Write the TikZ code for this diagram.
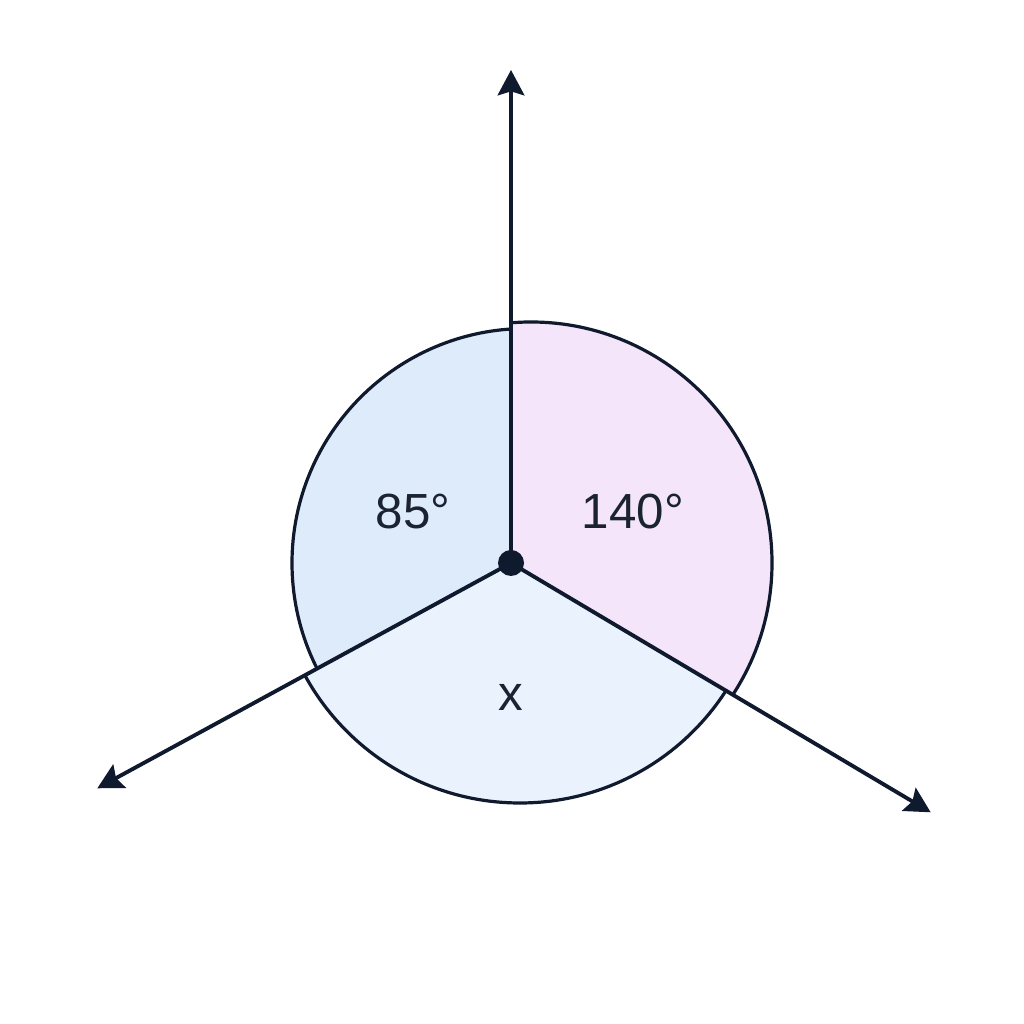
\documentclass[tikz,border=0pt]{standalone}
\usepackage{fontspec}
\setmainfont{Liberation Sans}
\usetikzlibrary{arrows.meta}
\definecolor{ink}{HTML}{0F1A2E}
\definecolor{txt}{HTML}{1B2333}
\definecolor{wblue}{HTML}{DEEBFA}
\definecolor{wpink}{HTML}{F4E5FA}
\definecolor{wlow}{HTML}{EAF2FD}
\tikzset{
  rim/.style={draw=ink, line width=2.4pt},
  ray/.style={draw=ink, line width=2.9pt, -{Stealth[length=19pt,width=20pt,inset=3pt]}},
  lbl/.style={text=txt, font=\fontsize{37}{40}\selectfont, inner sep=0pt},
  dotnode/.style={circle, fill=ink, minimum size=19.5pt, inner sep=0pt}
}
\begin{document}
\begin{tikzpicture}[x=0.75pt,y=0.75pt]
\fill[white] (0,0) rectangle (1024,1024);
\useasboundingbox (0,0) rectangle (1024,1024);
\coordinate (O) at (511,461);
\coordinate (tU) at (511,954);
\coordinate (tL) at (97.3,235.7);
\coordinate (tR) at (930.7,211.7);
% pink wedge
\begin{scope}
  \clip (O) -- (511,1100) -- (1400,1100) -- (1400,-67) -- cycle;
  \fill[wpink] (531,461) circle[radius=241];
  \draw[rim] (531,461) circle[radius=241];
\end{scope}
% blue wedge
\begin{scope}
  \clip (O) -- (511,1100) -- (-100,1100) -- (-100,128.1) -- cycle;
  \fill[wblue] (526.5,461) circle[radius=234.5];
  \draw[rim] (526.5,461) circle[radius=234.5];
\end{scope}
% bottom wedge
\begin{scope}
  \clip (O) -- (-100,128.1) -- (-100,-100) -- (1400,-100) -- (1400,-67) -- cycle;
  \fill[wlow] (520,466) circle[radius=245];
  \draw[rim] (520,466) circle[radius=245];
\end{scope}
% rays
\draw[ray] (O) -- (tU);
\draw[ray] (O) -- (tL);
\draw[ray] (O) -- (tR);
\node[dotnode] (center) at (O) {};
% labels
\node[lbl] (a85) at (413,512) {85°};
\node[lbl] (a140) at (633,512) {140°};
\node[lbl] (ax) at (511,327) {x};
\end{tikzpicture}
\end{document}
